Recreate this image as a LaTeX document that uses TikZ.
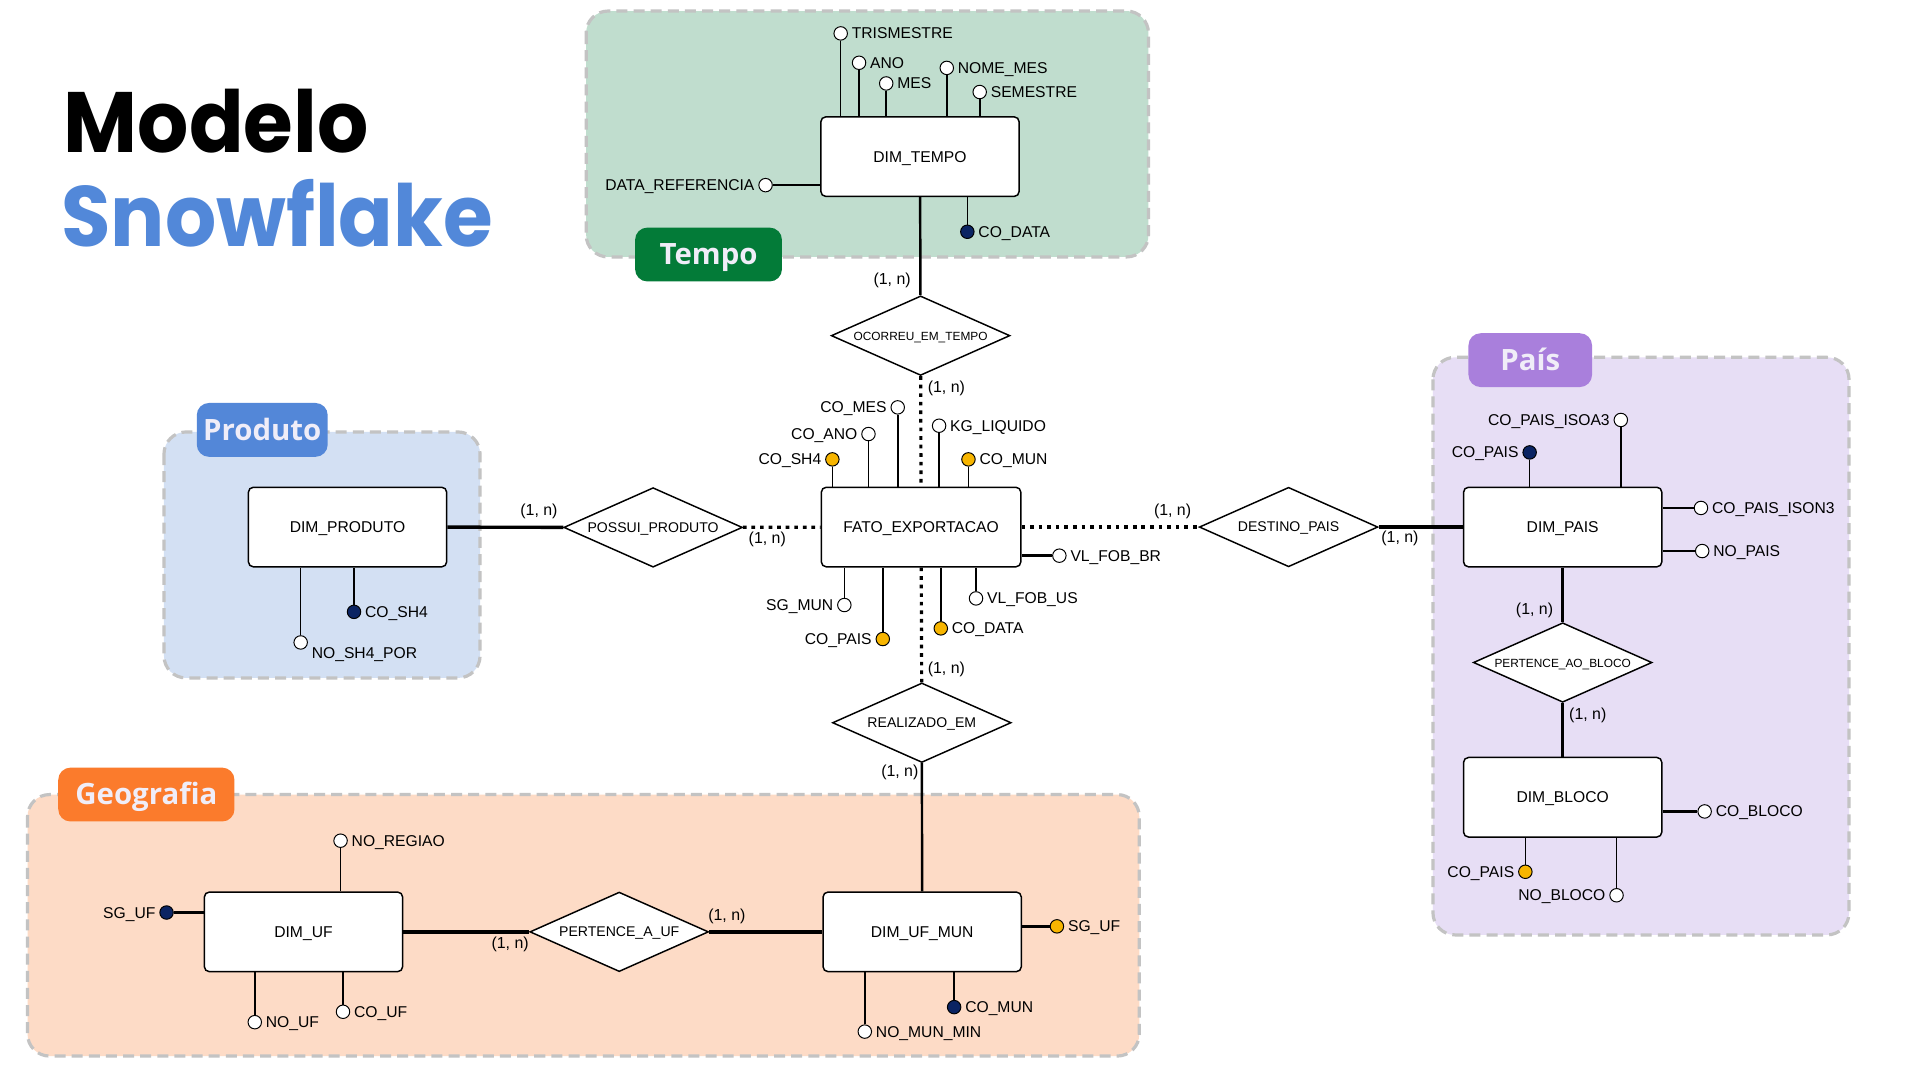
\documentclass[tikz,border=0pt]{standalone}
\usepackage{fontspec}
\setmainfont{Liberation Sans}
\newfontfamily\titlefont{Poppins}[FakeStretch=0.94]
\newfontfamily\tagfont{Open Sans}
\usetikzlibrary{shapes.geometric}

\definecolor{tempoFill}{HTML}{C0DDCE}
\definecolor{tempoTag}{HTML}{037B38}
\definecolor{produtoFill}{HTML}{D3E0F3}
\definecolor{produtoTag}{HTML}{5387D8}
\definecolor{geoFill}{HTML}{FDDBC6}
\definecolor{geoTag}{HTML}{FB7B2C}
\definecolor{paisFill}{HTML}{E7DEF5}
\definecolor{paisTag}{HTML}{A97FDC}
\definecolor{pkNavy}{HTML}{0B2463}
\definecolor{fkAmber}{HTML}{F7B500}
\definecolor{snowBlue}{HTML}{5288D9}
\definecolor{tagText}{HTML}{F0EDF8}
\definecolor{groupLine}{HTML}{C3C3C3}

\begin{document}
\begin{tikzpicture}[
    x=1pt, y=-1pt,
    group/.style={
        draw=groupLine,
        line width=2.6pt,
        dash pattern=on 9pt off 5pt,
        rounded corners=18pt,
    },
    tagbox/.style={
        rounded corners=10pt,
        text=tagText,
        font=\tagfont\bfseries\fontsize{24}{28}\selectfont,
        inner sep=0pt,
        minimum height=44pt,
        text height=17pt,
        text depth=0pt,
    },
    entity/.style={
        draw,
        fill=white,
        line width=1.2pt,
        rounded corners=4pt,
        minimum width=162pt,
        minimum height=65pt,
        font=\fontsize{12.8}{15}\selectfont,
        text height=9pt,
        text depth=0pt,
    },
    relation/.style={
        diamond,
        aspect=2.25,
        draw,
        fill=white,
        line width=1.2pt,
        inner sep=0pt,
        minimum width=146pt,
        minimum height=65pt,
        font=\fontsize{11.5}{14}\selectfont,
        text height=8pt,
        text depth=0pt,
    },
    attr/.style={
        circle,
        draw,
        fill=white,
        line width=0.8pt,
        minimum size=11pt,
        inner sep=0pt,
    },
    pk/.style={attr, fill=pkNavy},
    fk/.style={attr, fill=fkAmber},
    attrline/.style={line width=1.3pt},
    link/.style={line width=2pt},
    boldlink/.style={line width=2.8pt},
    dotlink/.style={line width=2.6pt, dash pattern=on 3pt off 4pt},
    card/.style={
        font=\fontsize{13}{15}\selectfont,
        inner sep=0pt,
        text height=9pt,
        text depth=0pt,
    },
    every label/.style={
        font=\fontsize{12.8}{15}\selectfont,
        inner sep=1pt,
        text height=9pt,
        text depth=0pt,
    },
    label distance=2pt,
]
    \useasboundingbox[fill=white] (0,0) rectangle (1569,882.6);

    % Titulo
    \node[anchor=base west, inner sep=0pt, font=\titlefont\bfseries\fontsize{70}{70}\selectfont] (titulo1) at (52,125) {Modelo};
    \node[anchor=base west, inner sep=0pt, text=snowBlue, font=\titlefont\bfseries\fontsize{70}{70}\selectfont] (titulo2) at (50,201.6) {Snowflake};

    % Grupos
    \draw[group, fill=tempoFill] (479,9) rectangle (938.5,210);
    \draw[group, fill=produtoFill] (134,353) rectangle (392.3,554);
    \draw[group, fill=geoFill] (22.5,649.3) rectangle (931,863);
    \draw[group, fill=paisFill] (1171,292) rectangle (1511,764);
    \node[tagbox, fill=tempoTag, minimum width=120pt] (tagtempo) at (579,208) {Tempo};
    \node[tagbox, fill=produtoTag, minimum width=107pt] (tagproduto) at (214.3,351.3) {Produto};
    \node[tagbox, fill=geoTag, minimum width=144pt] (taggeo) at (119.6,649.3) {Geografia};
    \node[tagbox, fill=paisTag, minimum width=101pt] (tagpais) at (1250.5,294.3) {País};

    % Tempo
    \node[entity] (dimtempo) at (751.8,128) {DIM\_TEMPO};
    \node[attr, label=right:TRISMESTRE] (trimestre) at (687,27.3) {};
    \node[attr, label=right:ANO] (ano) at (702,51.3) {};
    \node[attr, label=right:MES] (mes) at (724.2,68.2) {};
    \node[attr, label=right:NOME\_MES] (nomemes) at (773.7,55.5) {};
    \node[attr, label=right:SEMESTRE] (semestre) at (800.6,75.2) {};
    \node[attr, label=left:DATA\_REFERENCIA] (datareferencia) at (625.6,151.3) {};
    \node[pk, label=right:CO\_DATA] (codata) at (790.5,189.4) {};
    \node[relation, font=\fontsize{9.7}{12}\selectfont] (ocorreu) at (752.3,274.3) {OCORREU\_EM\_TEMPO};

    % Fato
    \node[entity, minimum width=163pt] (fato) at (752.7,430.7) {FATO\_EXPORTACAO};
    \node[attr, label=left:CO\_MES] (comes) at (733.6,332.9) {};
    \node[attr, label=left:CO\_ANO] (coano) at (709.7,354.7) {};
    \node[fk, label=left:CO\_SH4] (fatosh4) at (680.2,375.4) {};
    \node[attr, label=right:KG\_LIQUIDO] (kgliquido) at (767.4,347.9) {};
    \node[fk, label=right:CO\_MUN] (fatomun) at (791.4,375.4) {};
    \node[attr, label=left:SG\_MUN] (sgmun) at (690,494.4) {};
    \node[fk, label=left:CO\_PAIS] (fatopais) at (721.4,522.2) {};
    \node[fk, label=right:CO\_DATA] (fatodata) at (768.8,513.5) {};
    \node[attr, label=right:VL\_FOB\_US] (vlfobus) at (797.6,489) {};
    \node[attr, label=right:VL\_FOB\_BR] (vlfobbr) at (865.7,454.1) {};

    % Produto
    \node[entity] (dimproduto) at (284,430.7) {DIM\_PRODUTO};
    \node[pk, label=right:CO\_SH4] (cosh4) at (289.3,500) {};
    \node[attr, label={[yshift=-8.5pt]right:NO\_SH4\_POR}] (nosh4por) at (245.7,525) {};
    \node[relation] (possui) at (533.7,431) {POSSUI\_PRODUTO};

    % Geografia
    \node[relation] (realizado) at (753.3,590.6) {REALIZADO\_EM};
    \node[entity] (dimufmun) at (753.6,761.5) {DIM\_UF\_MUN};
    \node[fk, label=right:SG\_UF] (munsguf) at (863.7,757) {};
    \node[pk, label=right:CO\_MUN] (comun) at (779.7,823) {};
    \node[attr, label=right:NO\_MUN\_MIN] (nomunmin) at (706.7,843) {};
    \node[relation] (pertenceuf) at (506,761.5) {PERTENCE\_A\_UF};
    \node[entity] (dimuf) at (248,761.5) {DIM\_UF};
    \node[pk, label=left:SG\_UF] (sguf) at (136.1,745.7) {};
    \node[attr, label=right:NO\_REGIAO] (noregiao) at (278.3,687) {};
    \node[attr, label=right:NO\_UF] (nouf) at (208.2,835.3) {};
    \node[attr, label=right:CO\_UF] (couf) at (280.3,826.8) {};

    % Pais
    \node[relation] (destino) at (1053,430.7) {DESTINO\_PAIS};
    \node[entity] (dimpais) at (1277,430.7) {DIM\_PAIS};
    \node[attr, label=left:CO\_PAIS\_ISOA3] (isoa3) at (1324.5,343.2) {};
    \node[pk, label=left:CO\_PAIS] (copais) at (1250,369.7) {};
    \node[attr, label=right:CO\_PAIS\_ISON3] (ison3) at (1390,415.1) {};
    \node[attr, label=right:NO\_PAIS] (nopais) at (1391,450.3) {};
    \node[relation, font=\fontsize{9.7}{12}\selectfont] (pertencebloco) at (1277,541.4) {PERTENCE\_AO\_BLOCO};
    \node[entity] (dimbloco) at (1277,651.5) {DIM\_BLOCO};
    \node[attr, label=right:CO\_BLOCO] (cobloco) at (1393,663.1) {};
    \node[fk, label=left:CO\_PAIS] (blocopais) at (1246.5,712.4) {};
    \node[attr, label=left:NO\_BLOCO] (nobloco) at (1321,731.6) {};

    % Atributos
    \foreach \a in {trimestre, ano, mes, nomemes, semestre}
        \draw[attrline] (\a) -- (\a |- dimtempo.north);
    \draw[link] (datareferencia) -- (datareferencia -| dimtempo.west);
    \draw[attrline] (codata) -- (codata |- dimtempo.south);
    \foreach \a in {comes, coano, fatosh4, kgliquido, fatomun}
        \draw[attrline] (\a) -- (\a |- fato.north);
    \foreach \a in {sgmun, fatopais, fatodata, vlfobus}
        \draw[attrline] (\a) -- (\a |- fato.south);
    \draw[link] (vlfobbr) -- (vlfobbr -| fato.east);
    \foreach \a in {cosh4, nosh4por}
        \draw[attrline] (\a) -- (\a |- dimproduto.south);
    \foreach \a in {comun, nomunmin}
        \draw[attrline] (\a) -- (\a |- dimufmun.south);
    \draw[link] (munsguf) -- (munsguf -| dimufmun.east);
    \draw[link] (sguf) -- (sguf -| dimuf.west);
    \draw[attrline] (noregiao) -- (noregiao |- dimuf.north);
    \foreach \a in {nouf, couf}
        \draw[attrline] (\a) -- (\a |- dimuf.south);
    \foreach \a in {isoa3, copais}
        \draw[attrline] (\a) -- (\a |- dimpais.north);
    \foreach \a in {ison3, nopais}
        \draw[link] (\a) -- (\a -| dimpais.east);
    \draw[link] (cobloco) -- (cobloco -| dimbloco.east);
    \foreach \a in {blocopais, nobloco}
        \draw[attrline] (\a) -- (\a |- dimbloco.south);

    % Relacionamentos
    \draw[link] (dimtempo) -- (ocorreu);
    \draw[dotlink] (ocorreu) -- (fato);
    \draw[boldlink] (dimproduto) -- (possui);
    \draw[dotlink] (possui) -- (fato);
    \draw[dotlink] (fato) -- (destino);
    \draw[boldlink] (destino) -- (dimpais);
    \draw[dotlink] (fato) -- (realizado);
    \draw[link] (realizado) -- (dimufmun);
    \draw[boldlink] (dimuf) -- (pertenceuf);
    \draw[boldlink] (pertenceuf) -- (dimufmun);
    \draw[link] (dimpais) -- (pertencebloco);
    \draw[link] (pertencebloco) -- (dimbloco);

    % Cardinalidades
    \node[card] (card1) at (729,228.3) {(1, n)};
    \node[card, anchor=west] (card2) at (758,316.5) {(1, n)};
    \node[card] (card3) at (440.4,416.5) {(1, n)};
    \node[card] (card4) at (627,440) {(1, n)};
    \node[card] (card5) at (958.2,416.5) {(1, n)};
    \node[card] (card6) at (1144,438.5) {(1, n)};
    \node[card, anchor=west] (card7) at (758,545.6) {(1, n)};
    \node[card, anchor=east] (card8) at (750.7,630) {(1, n)};
    \node[card] (card9) at (416.9,771) {(1, n)};
    \node[card] (card10) at (594,748) {(1, n)};
    \node[card] (card11) at (1254,497.7) {(1, n)};
    \node[card] (card12) at (1297.5,583.6) {(1, n)};
\end{tikzpicture}
\end{document}
